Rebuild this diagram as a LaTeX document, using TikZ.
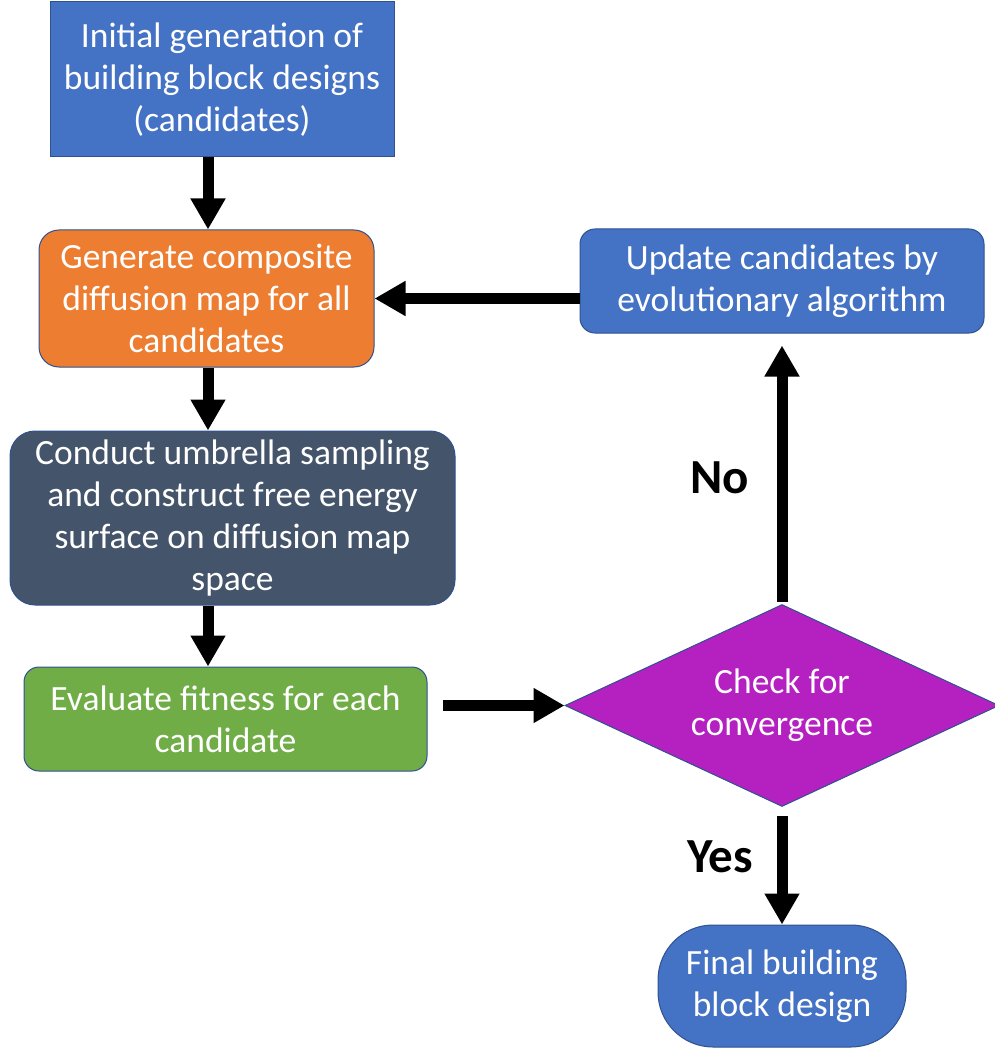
\documentclass[tikz,border=0pt]{standalone}
\usepackage{fontspec}
\setmainfont{Carlito}
\usetikzlibrary{arrows.meta,shapes.geometric}
\definecolor{cblue}{HTML}{4472C4}
\definecolor{corange}{HTML}{ED7D31}
\definecolor{cslate}{HTML}{44546A}
\definecolor{cgreen}{HTML}{70AD47}
\definecolor{cpurple}{HTML}{B521C1}
\definecolor{cedge}{HTML}{2F528F}
\tikzset{
  box/.style={draw=cedge, line width=1pt, text=white, align=center, inner sep=0pt,
    font=\fontsize{35.5}{42}\selectfont},
  arr/.style={line width=11pt, -{Triangle[width=33pt,length=31pt]}},
  lbl/.style={font=\fontsize{49}{55}\selectfont\bfseries, text=black}
}
\begin{document}
\begin{tikzpicture}[x=1pt,y=-1pt]
\useasboundingbox (0,0) rectangle (994,1048);
\node[box, fill=cblue, rectangle, minimum width=344pt, minimum height=155pt] (init) at (222,79.5)
  {Initial generation of\\building block designs\\(candidates)};
\node[box, fill=corange, rounded corners=20pt, minimum width=335pt, minimum height=137pt] (gen) at (206.5,298.5)
  {Generate composite\\diffusion map for all\\candidates};
\node[box, fill=cslate, rounded corners=25pt, minimum width=445pt, minimum height=174pt] (umb) at (232.5,518)
  {Conduct umbrella sampling\\and construct free energy\\surface on diffusion map\\space};
\node[box, fill=cgreen, rounded corners=15pt, minimum width=403pt, minimum height=104pt] (fit) at (225.5,719)
  {Evaluate fitness for each\\candidate};
\node[box, fill=cblue, rounded corners=15pt, minimum width=404pt, minimum height=104pt] (upd) at (782,281)
  {Update candidates by\\evolutionary algorithm};
\node[box, fill=cpurple, diamond, aspect=2.15, minimum width=434pt, minimum height=202pt] (conv) at (782,705.5)
  {Check for\\convergence};
\node[box, fill=cblue, rounded corners=55pt, minimum width=248pt, minimum height=122pt] (final) at (782,986)
  {Final building\\block design};

\draw[arr] (init.south -| 208,0) -- (gen.north -| 208,0);
\draw[arr] (gen.south -| 208,0) -- (umb.north -| 208,0);
\draw[arr] (umb.south -| 208,0) -- (fit.north -| 208,0);
\draw[arr] ([xshift=15pt]fit.east |- conv.west) -- (conv.west);
\draw[arr] (upd.west |- gen.east) -- (gen.east);
\draw[arr] ([yshift=2pt]conv.north) -- ([yshift=-12pt]upd.south);
\draw[arr] ([yshift=-9pt]conv.south) -- (final.north);

\node[lbl] (no) at (720,478) {No};
\node[lbl] (yes) at (720,857) {Yes};
\end{tikzpicture}
\end{document}
